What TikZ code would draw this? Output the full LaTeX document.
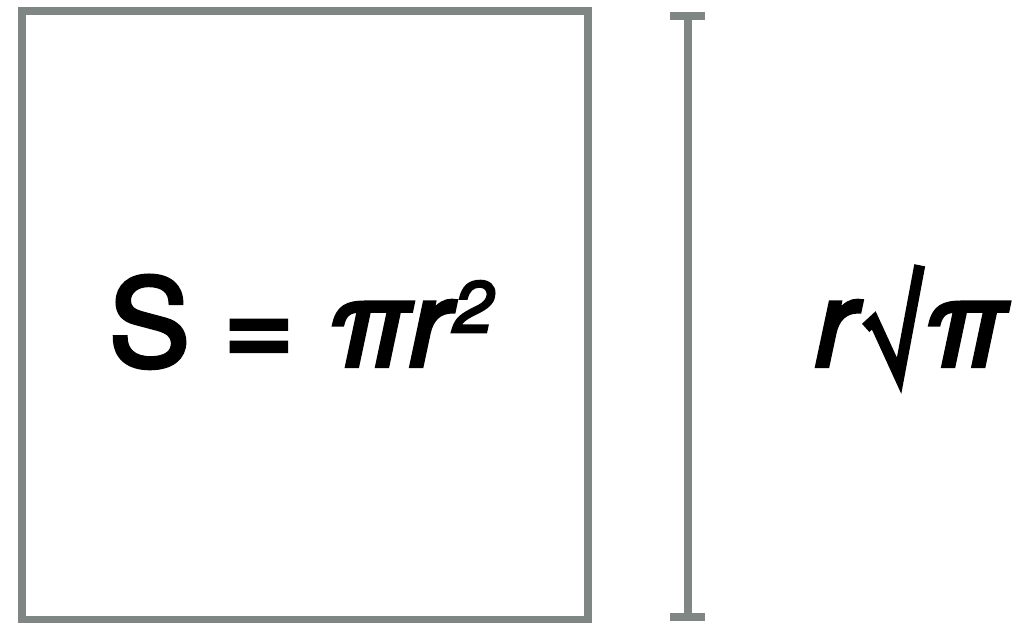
\documentclass[tikz,border=0pt]{standalone}
\usepackage{fontspec}
\setmainfont{TeX Gyre Heros}
\newfontfamily\medfont{TeX Gyre Heros}[FakeBold=3.5]
\definecolor{edge}{RGB}{128,134,131}
\begin{document}
\begin{tikzpicture}[x=1pt,y=-1pt,
  edgeline/.style={draw=edge, line width=8pt},
  bigtext/.style={font=\medfont\fontsize{121}{126}\selectfont, inner sep=0pt, text=black},
  suptext/.style={font=\medfont\itshape\fontsize{72}{72}\selectfont, inner sep=0pt, text=black}]
\clip (0,0) rectangle (1026,622);
\node[edgeline, minimum width=566pt, minimum height=609pt, inner sep=0pt] (box) at (304.5,315.5) {};
\node[bigtext, anchor=base east] (area) at (456,366) {S = \textit{πr}};
\node[suptext, anchor=base west] (sq) at (453,332) {2};
\coordinate (top) at (687.5,15.5);
\coordinate (bot) at (687.5,616.5);
\draw[edgeline] (top) -- (bot);
\draw[edgeline] ([xshift=-17.5pt]top) -- ([xshift=17.5pt]top);
\draw[edgeline] ([xshift=-17.5pt]bot) -- ([xshift=17.5pt]bot);
\node[bigtext, anchor=base] (len) at (912,366) {\textit{r}\kern-3pt\raisebox{-14pt}{\fontsize{128}{128}\selectfont √}\kern-4pt\textit{π}};
\end{tikzpicture}
\end{document}
